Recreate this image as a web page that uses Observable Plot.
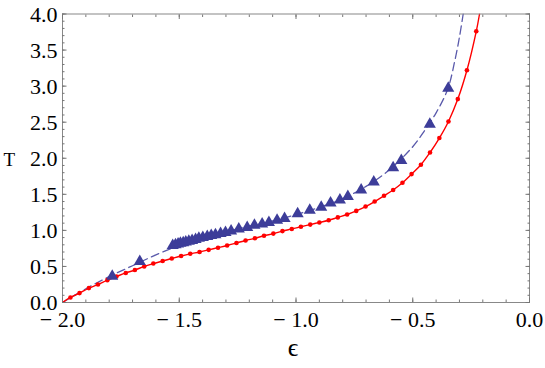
<!DOCTYPE html>
<html><head><meta charset="utf-8">
<script src="https://cdn.jsdelivr.net/npm/d3@7"></script>
<script src="https://cdn.jsdelivr.net/npm/@observablehq/plot@0.6"></script>
<style>html,body{margin:0;padding:0;background:#fff;} svg text{font-family:"Liberation Serif","Times New Roman",Times,serif !important;}</style>
</head><body><div id="chart"></div>
<script>
// Red series (points)
const redEps = [-1.966,-1.927,-1.887,-1.848,-1.808,-1.769,-1.729,-1.690,-1.650,-1.611,-1.571,-1.532,-1.492,-1.453,-1.413,-1.374,-1.334,-1.295,-1.255,-1.216,-1.176,-1.137,-1.097,-1.058,-1.018,-0.979,-0.939,-0.900,-0.860,-0.821,-0.781,-0.742,-0.702,-0.663,-0.623,-0.584,-0.544,-0.505,-0.465,-0.426,-0.386,-0.347,-0.307,-0.268,-0.228];
const redT   = [0.07,0.13,0.20,0.25,0.31,0.36,0.41,0.45,0.50,0.54,0.575,0.61,0.645,0.675,0.70,0.73,0.76,0.79,0.825,0.86,0.89,0.925,0.955,0.99,1.02,1.05,1.08,1.11,1.14,1.18,1.22,1.27,1.33,1.40,1.48,1.56,1.66,1.78,1.91,2.08,2.28,2.51,2.82,3.22,3.76];
// Red line end points (start at origin, leave through the top)
const redStart = [-2.0, 0.0];
const redEnd = [-0.214, 4.0];

// Blue triangles
const blueEps = [-1.787,-1.669,-1.528,-1.516,-1.505,-1.495,-1.483,-1.472,-1.459,-1.445,-1.430,-1.416,-1.399,-1.380,-1.363,-1.345,-1.323,-1.302,-1.278,-1.245,-1.209,-1.178,-1.145,-1.116,-1.081,-1.049,-0.993,-0.941,-0.892,-0.852,-0.812,-0.778,-0.721,-0.667,-0.584,-0.549,-0.427,-0.348];
const blueT   = [0.365,0.57,0.79,0.80,0.81,0.82,0.83,0.84,0.85,0.86,0.875,0.89,0.90,0.915,0.93,0.94,0.955,0.97,0.99,1.02,1.04,1.07,1.09,1.11,1.14,1.165,1.23,1.28,1.32,1.38,1.42,1.47,1.56,1.67,1.87,1.97,2.47,2.97];

// Blue dashed curve
const dashEps = [-2.0,-1.9,-1.8,-1.7,-1.6,-1.5,-1.4,-1.3,-1.2,-1.1,-1.0,-0.9,-0.8,-0.7,-0.6,-0.5,-0.45,-0.4,-0.35,-0.32,-0.30,-0.284];
const dashT   = [0.0,0.19,0.36,0.51,0.66,0.79,0.90,0.98,1.06,1.13,1.22,1.32,1.44,1.61,1.84,2.16,2.38,2.63,2.96,3.35,3.68,4.0];

// Ticks
const xTicks = [-2,-1.5,-1,-0.5,0];
const xTickLabels = ["\u2212 2.0","\u2212 1.5","\u2212 1.0","\u2212 0.5","0.0"];
const yTicks = [0,0.5,1,1.5,2,2.5,3,3.5,4];
const yTickLabels = ["0.0","0.5","1.0","1.5","2.0","2.5","3.0","3.5","4.0"];
const xMinor = d3.range(0, 21).map(i => -2 + i / 10);
const yMinor = d3.range(0, 41).map(i => i / 10);

const redPts = redEps.map((e, i) => ({e, t: redT[i]}));
const redLine = [{e: redStart[0], t: redStart[1]}, ...redPts, {e: redEnd[0], t: redEnd[1]}];
const bluePts = blueEps.map((e, i) => ({e, t: blueT[i]}));
const dashLine = dashEps.map((e, i) => ({e, t: dashT[i]}));

const FONT = "Liberation Serif";
const tickColor = "#777";
const noText = () => "";

const chart = Plot.plot({
  width: 545, height: 368,
  marginLeft: 62, marginRight: 16, marginTop: 13.5, marginBottom: 66,
  x: {domain: [-2, 0]},
  y: {domain: [0, 4]},
  style: {fontFamily: FONT, fontSize: "22px", background: "white", color: "black", overflow: "visible"},
  marks: [
    Plot.line(dashLine, {x: "e", y: "t", stroke: "#5a5aab", strokeWidth: 1.3, strokeDasharray: "8,4.5", curve: "catmull-rom", clip: true}),
    Plot.line(redLine, {x: "e", y: "t", stroke: "#ff0000", strokeWidth: 1.4, curve: "catmull-rom", clip: true}),
    Plot.dot(redPts, {x: "e", y: "t", r: 2.3, fill: "#ff0000", stroke: "none"}),
    Plot.dot(bluePts, {x: "e", y: "t", symbol: "triangle", r: 4.5, fill: "#3d3d99", stroke: "none"}),
    Plot.frame({stroke: "#888", strokeWidth: 1}),
    Plot.axisX(xMinor, {anchor: "bottom", tickSize: -2.5, tickFormat: noText, label: null, stroke: tickColor}),
    Plot.axisX(xMinor, {anchor: "top", tickSize: -2.5, tickFormat: noText, label: null, stroke: tickColor}),
    Plot.axisX(xTicks, {anchor: "bottom", tickSize: -4.5, tickFormat: noText, label: null, stroke: tickColor}),
    Plot.axisX(xTicks, {anchor: "top", tickSize: -4.5, tickFormat: noText, label: null, stroke: tickColor}),
    Plot.axisY(yMinor, {anchor: "left", tickSize: -2.5, tickFormat: noText, label: null, stroke: tickColor}),
    Plot.axisY(yMinor, {anchor: "right", tickSize: -2.5, tickFormat: noText, label: null, stroke: tickColor}),
    Plot.axisY(yTicks, {anchor: "left", tickSize: -4.5, tickFormat: noText, label: null, stroke: tickColor}),
    Plot.axisY(yTicks, {anchor: "right", tickSize: -4.5, tickFormat: noText, label: null, stroke: tickColor}),
    Plot.text(xTicks, {x: d => d, text: (d, i) => xTickLabels[i], frameAnchor: "bottom", lineAnchor: "top", dy: 9, fontSize: 22, fontFamily: FONT, fill: "black"}),
    Plot.text(yTicks, {y: d => d, text: (d, i) => yTickLabels[i], frameAnchor: "left", textAnchor: "end", dx: -5, dy: 0.5, fontSize: 22, fontFamily: FONT, fill: "black"}),
    Plot.text(["\u03F5"], {frameAnchor: "bottom", dy: 53, dx: -3, fontSize: 26, fontFamily: FONT, fill: "black"}),
    Plot.text(["T"], {frameAnchor: "left", textAnchor: "start", dx: -59, dy: 2, fontSize: 19, fontFamily: FONT, fill: "black"})
  ]
});
document.getElementById("chart").appendChild(chart);
</script>
</body></html>
